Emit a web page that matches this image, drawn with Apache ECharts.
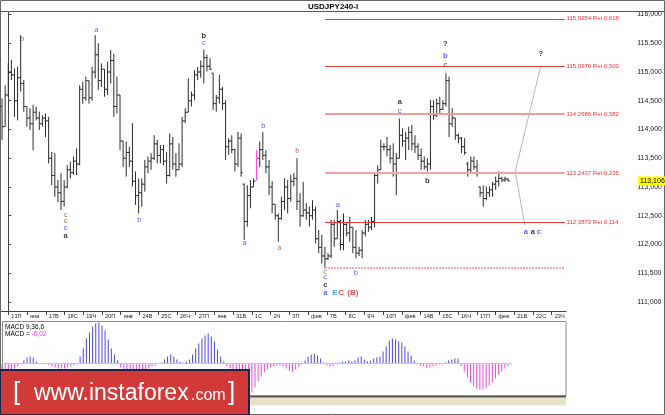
<!DOCTYPE html>
<html><head><meta charset="utf-8">
<script src="https://cdn.jsdelivr.net/npm/echarts@6/dist/echarts.min.js"></script>
<style>html,body{margin:0;padding:0;background:#fff}#c{width:665px;height:415px}</style>
</head><body><div id="c"></div>
<script>
// ---------------- DATA ----------------
const chartTitle = 'USDJPY240-I';
const firstBar = -2; // index of first bar relative to the first labelled day start
// [open, high, low, close]
const ohlcBars = [
 [114.40,114.54,113.82,114.05],
 [114.05,114.77,114.05,114.60],
 [114.60,115.15,114.57,115.00], //0
 [115.00,115.21,114.86,114.95],
 [114.95,115.06,114.22,114.50],
 [114.50,115.09,114.16,114.90],
 [114.90,115.64,114.66,114.80],
 [114.80,114.86,114.31,114.40], //5
 [114.40,114.40,114.05,114.20],
 [114.20,114.37,113.99,114.10],
 [114.10,114.43,113.64,114.30],
 [114.30,114.40,114.16,114.20],
 [114.20,114.31,113.99,114.10], //10
 [114.10,114.25,114.05,114.20],
 [114.20,114.28,113.87,114.15],
 [114.15,114.22,113.41,113.50],
 [113.50,113.61,113.03,113.20],
 [113.20,113.59,112.83,113.00], //15
 [113.00,113.12,112.74,112.90],
 [112.90,113.24,112.60,112.75],
 [112.75,113.12,112.66,113.00],
 [113.00,113.38,112.98,113.30],
 [113.30,113.44,113.15,113.25], //20
 [113.25,113.53,113.21,113.45],
 [113.45,113.67,113.21,113.40],
 [113.40,114.77,113.38,114.70],
 [114.70,114.83,114.45,114.55],
 [114.55,114.92,114.50,114.85], //25
 [114.85,114.85,114.45,114.55],
 [114.55,115.09,114.50,115.00],
 [115.00,115.64,114.89,115.30],
 [115.30,115.50,114.69,114.85],
 [114.85,115.15,114.74,115.05], //30
 [115.05,115.05,114.57,114.70],
 [114.70,115.18,114.60,115.00],
 [115.00,115.38,114.80,115.20],
 [115.20,115.32,114.22,114.40],
 [114.40,114.92,114.28,114.60], //35
 [114.60,114.60,113.64,113.80],
 [113.80,113.80,113.35,113.50],
 [113.50,113.79,113.18,113.60],
 [113.60,113.70,113.35,113.45],
 [113.45,114.11,113.01,113.10], //40
 [113.10,113.27,112.69,112.85],
 [112.85,113.15,112.54,112.90],
 [112.90,113.15,112.66,113.05],
 [113.05,113.47,112.92,113.35],
 [113.35,113.53,113.24,113.45], //45
 [113.45,113.59,113.30,113.50],
 [113.50,113.90,113.47,113.75],
 [113.75,113.82,113.41,113.55],
 [113.55,113.73,113.41,113.65],
 [113.65,113.73,113.38,113.45], //50
 [113.45,113.61,113.06,113.20],
 [113.20,113.93,113.18,113.75],
 [113.75,113.87,113.30,113.40],
 [113.40,113.59,113.18,113.30],
 [113.30,113.76,113.30,113.40], //55
 [113.40,114.22,113.35,114.15],
 [114.15,114.37,114.11,114.30],
 [114.30,114.89,114.30,114.50],
 [114.50,114.66,114.40,114.60],
 [114.60,115.03,114.51,114.95], //60
 [114.95,115.09,114.86,115.00],
 [115.00,115.20,114.90,115.10],
 [115.10,115.39,114.80,115.25],
 [115.25,115.30,115.01,115.10],
 [115.10,115.24,115.03,115.05], //65
 [114.98,114.98,114.34,114.45],
 [114.45,114.60,114.31,114.55],
 [114.55,114.95,114.45,114.70],
 [114.70,114.74,114.34,114.45],
 [114.45,114.51,113.47,113.70], //70
 [113.70,113.85,113.56,113.80],
 [113.80,113.90,113.59,113.65],
 [113.65,113.67,113.27,113.40],
 [113.40,113.96,113.35,113.85],
 [113.85,113.93,113.18,113.25], //75
 [113.05,113.06,112.08,112.40],
 [112.40,113.03,112.31,112.85],
 [112.85,113.12,112.63,113.00],
 [113.00,113.15,113.00,113.10],
 [113.12,113.64,113.12,113.50], //80
 [113.50,113.79,113.35,113.65],
 [113.65,113.96,113.47,113.55],
 [113.55,113.64,113.24,113.35],
 [113.35,113.47,112.86,113.00],
 [113.00,113.10,112.54,112.70], //85
 [112.70,112.70,112.43,112.50],
 [112.50,112.54,112.05,112.45],
 [112.45,112.83,112.43,112.75],
 [112.75,113.15,112.60,113.00],
 [113.00,113.12,112.54,112.80], //90
 [112.80,113.21,112.74,113.10],
 [113.10,113.24,113.01,113.15],
 [113.15,113.50,112.60,112.75],
 [112.75,112.89,112.31,112.50],
 [112.50,113.09,112.48,112.60], //95
 [112.60,112.72,112.43,112.55],
 [112.55,112.66,112.31,112.50],
 [112.50,112.77,112.43,112.60],
 [112.60,112.66,112.02,112.10],
 [112.10,112.25,111.85,111.95], //100
 [111.95,112.17,111.67,111.80],
 [111.80,111.96,111.59,111.75],
 [111.75,111.85,111.73,111.80],
 [111.80,112.43,111.76,112.35],
 [112.35,112.43,111.96,112.10], //105
 [112.10,112.60,112.10,112.40],
 [112.40,112.43,111.90,112.00],
 [112.00,112.54,111.90,112.35],
 [112.35,112.37,112.14,112.20],
 [112.20,112.48,112.05,112.30], //110
 [112.30,112.30,111.85,111.95],
 [111.95,112.25,111.76,111.85],
 [111.85,111.96,111.80,111.90],
 [111.90,112.25,111.76,112.20],
 [112.20,112.43,112.14,112.35], //115
 [112.35,112.43,112.22,112.30],
 [112.30,112.48,112.25,112.40],
 [112.40,113.24,112.30,113.20],
 [113.20,113.38,113.06,113.30],
 [113.30,113.82,113.30,113.70], //120
 [113.70,113.76,113.64,113.70],
 [113.70,113.87,113.53,113.65],
 [113.65,113.73,113.41,113.50],
 [113.50,113.76,113.18,113.40],
 [113.40,113.59,112.86,113.50], //125
 [113.50,114.19,113.50,113.90],
 [113.90,114.02,113.70,113.80],
 [113.80,113.96,113.47,113.85],
 [113.85,114.05,113.64,113.95],
 [113.95,114.08,113.64,113.75], //130
 [113.75,113.90,113.59,113.70],
 [113.70,113.76,113.47,113.55],
 [113.55,113.67,113.30,113.45],
 [113.45,113.53,113.30,113.35],
 [113.35,113.50,113.27,113.40], //135
 [113.40,114.51,113.30,114.40],
 [114.40,114.51,114.17,114.25],
 [114.25,114.54,114.22,114.45],
 [114.45,114.57,114.25,114.35],
 [114.35,114.51,114.34,114.45], //140
 [114.45,114.98,114.40,114.85],
 [114.85,114.92,113.87,114.10],
 [114.10,114.37,114.05,114.20],
 [114.20,114.20,113.82,113.90],
 [113.90,113.93,113.76,113.85], //145
 [113.85,113.87,113.59,113.70],
 [113.70,113.85,113.56,113.60],
 [113.40,113.44,113.18,113.30],
 [113.30,113.53,113.24,113.45],
 [113.45,113.53,113.30,113.35], //150
 [113.35,113.47,113.18,113.25],
 [113.00,113.01,112.83,112.90],
 [112.90,113.03,112.66,112.80],
 [112.80,113.01,112.77,112.90],
 [112.90,113.01,112.83,112.95], //155
 [112.95,113.09,112.83,113.05],
 [113.05,113.18,112.95,113.10],
 [113.10,113.27,113.01,113.15],
 [113.15,113.18,113.09,113.12],
 [113.12,113.18,113.09,113.14], //160
 [113.14,113.15,113.10,113.106]
];
const highlightBars = [80]; // bar drawn in magenta

// MACD(9,36,6) histogram, one value per bar
const macdHist = [
 -0.08,-0.08,
 -0.07,-0.06,-0.05,-0.03,-0.01, 0.03, 0.06, 0.07, 0.06, 0.02, //0-9
 -0.005,-0.01,-0.01,-0.02,-0.03,-0.04,-0.05,-0.05,-0.05,-0.04, //10-19
 -0.03,-0.02,-0.01, 0.07, 0.15, 0.25, 0.31, 0.37, 0.40, 0.41, //20-29
  0.38, 0.33, 0.24, 0.15, 0.09, 0.03,-0.04,-0.06,-0.08,-0.09, //30-39
 -0.09,-0.08,-0.08,-0.07,-0.06,-0.05,-0.03,-0.02,-0.005,0.01, //40-49
  0.04, 0.07, 0.09, 0.07, 0.04, 0.02, 0.01, 0.02, 0.04, 0.09, //50-59
  0.15, 0.20, 0.25, 0.28, 0.30, 0.27, 0.22, 0.14, 0.07, 0.02, //60-69
 -0.03,-0.05,-0.08,-0.12,-0.17,-0.21,-0.25,-0.28,-0.29,-0.24, //70-79
 -0.18,-0.13,-0.09,-0.06,-0.04,-0.03,-0.02,-0.02,-0.03,-0.05, //80-89
 -0.07,-0.08,-0.06,-0.03,-0.01, 0.03, 0.07, 0.09, 0.10, 0.08, //90-99
  0.05, 0.01,-0.02,-0.03,-0.03,-0.01, 0.01, 0.02, 0.02, 0.03, //100-109
  0.02, 0.03, 0.06, 0.07, 0.04, 0.02, 0.03, 0.05, 0.06, 0.07, //110-119
  0.12, 0.17, 0.23, 0.25, 0.24, 0.22, 0.21, 0.17, 0.12, 0.08, //120-129
  0.03,-0.01,-0.02,-0.03,-0.04,-0.04,-0.03,-0.02,-0.01,-0.01, //130-139
  0.01, 0.03, 0.04, 0.05, 0.05,-0.03,-0.08,-0.14,-0.19,-0.23, //140-149
 -0.25,-0.26,-0.26,-0.25,-0.22,-0.19,-0.15,-0.11,-0.08,-0.05, //150-159
 -0.03,-0.01                                                    //160-161
];
const macdTitle = 'MACD 9,36,6';
const macdValueText = '-0,02';

const dayLabels = ['13П','янв','17В','18С','19Ч','20П','янв','24В','25С','26Ч','27П','янв','31В','1С','2Ч','3П',
                   'фев','7В','8С','9Ч','10П','фев','14В','15С','16Ч','17П','фев','21В','22С','23Ч'];
const barsPerDay = 6;
const priceTicks = [111, 111.5, 112, 112.5, 113, 113.5, 114, 114.5, 115, 115.5, 116];

const fibLevels = [115.9254, 115.0970, 114.2686, 113.2437, 112.3873, 111.60];
const fibRatios = ['0,618', '0,500', '0,382', '0,236', '0,114', ''];
const fibSpan = [102.05, 179.2];   // bar-index range of the retracement lines
const lastPrice = 113.106;

const projUp = [[163.3, 113.266], [171.5, 115.097]];
const projDown = [[163.3, 113.266], [166.4, 112.339]];

// [barIndex, price, text, colour, bold]
const waveLabels = [
 [4.4, 115.57, 'b', 'k2', 0],
 [28.4, 115.73, 'a', 'blue', 0],
 [63.0, 115.63, 'b', 'k', 1],
 [63.0, 115.50, 'c', 'blue', 0],
 [18.5, 112.51, 'c', 'gray', 0],
 [18.5, 112.41, 'c', 'brown', 0],
 [18.5, 112.29, 'c', 'blue', 0],
 [18.5, 112.15, 'a', 'k', 1],
 [42.2, 112.43, 'b', 'blue', 0],
 [82.2, 114.06, 'b', 'blue', 0],
 [76.1, 112.03, 'a', 'blue', 0],
 [93.1, 113.63, 'b', 'brown', 0],
 [87.3, 111.94, 'a', 'brown', 0],
 [106.2, 112.69, 'a', 'blue', 0],
 [102.1, 111.52, 'c', 'brown', 0],
 [102.1, 111.44, 'c', 'blue', 0],
 [102.1, 111.30, 'c', 'k', 1],
 [102.1, 111.16, 'a', 'blue', 1],
 [105.2, 111.16, 'E', 'cyan', 1],
 [107.2, 111.16, 'C', 'red', 1],
 [111.0, 111.16, '(B)', 'red', 1],
 [112.0, 111.50, 'b', 'blue', 0],
 [126.1, 114.48, 'a', 'k', 1],
 [126.1, 114.32, 'c', 'blue', 0],
 [140.8, 115.49, '?', 'k', 1],
 [140.8, 115.28, 'b', 'blue', 1],
 [140.8, 115.12, 'c', 'k', 0],
 [135.0, 113.10, 'b', 'k', 1],
 [171.5, 115.31, '?', 'k', 1],
 [166.7, 112.22, 'a', 'blue', 1],
 [169.0, 112.22, 'a', 'k', 1],
 [170.9, 112.22, 'c', 'blue', 1]
];

// ---------------- STYLE / LAYOUT ----------------
const FONT = 'Liberation Sans';
const colors = {k:'#000', k2:'#333', blue:'#3434ff', brown:'#a0522d', gray:'#666', cyan:'#1f9be0', red:'#e61e1e'};
const fibStyles = [
 {color:'#ee3434', width:1.2, type:'solid'},
 {color:'#e83838', width:1.2, type:'solid'},
 {color:'#f39a9a', width:2.2, type:'solid'},
 {color:'#f4a4a4', width:2.2, type:'solid'},
 {color:'#e63838', width:1.2, type:'solid'},
 {color:'#f5a8a8', width:2.2, type:[2,1]}
];
const X_DAY0 = 8.3;   // px of first labelled day tick
const PX_BAR = 3.123; // px per bar
const ix = px => (px - X_DAY0) / PX_BAR;
const PY116 = 14.5, PX_PER_UNIT = 57.5;
const pv = px => 116 - (px - PY116) / PX_PER_UNIT;
const fmt = (v, d) => v.toFixed(d).replace('.', ',');

const chart = echarts.init(document.getElementById('c'), null, {renderer:'canvas'});

const barData = ohlcBars.map((b, k) => [firstBar + k, b[0], b[1], b[2], b[3]]);
const macdData = macdHist.map((v, k) => [firstBar + k, v]);
const dayTicks = dayLabels.map((_, k) => k * barsPerDay);

const option = {
  animation: false,
  backgroundColor: '#ffffff',
  grid: [
    {left: 2, top: 12, width: 636, height: 299},
    {left: 0, top: 310, width: 566, height: 1},
    {left: 2, top: 322, width: 564, height: 74}
  ],
  xAxis: [
    {type:'value', gridIndex:0, min: ix(2), max: ix(638), show:false},
    {type:'value', gridIndex:1, min: ix(0), max: ix(566),
     axisLine:{show:true, lineStyle:{color:'#444', width:1}},
     axisTick:{show:true, customValues: dayTicks, length:4, lineStyle:{color:'#444'}},
     axisLabel:{show:true, customValues: dayTicks, formatter: v => dayLabels[Math.round(v / barsPerDay)] || '',
       align:'left', padding:[0,0,0,3], margin:2, fontSize:5.6, color:'#222', fontFamily: FONT},
     splitLine:{show:false}},
    {type:'value', gridIndex:2, min: ix(2), max: ix(566), show:false}
  ],
  yAxis: [
    {type:'value', gridIndex:0, position:'right', min: pv(311), max: pv(12),
     axisLine:{show:true, lineStyle:{color:'#444', width:1}},
     axisTick:{show:true, customValues: priceTicks, length:3, lineStyle:{color:'#444'}},
     axisLabel:{show:true, customValues: priceTicks, formatter: v => fmt(v, 3), margin:3,
       fontSize:7, color:'#222', fontFamily: FONT},
     splitLine:{show:false}},
    {type:'value', gridIndex:1, show:false, min:0, max:1},
    {type:'value', gridIndex:2, show:false, min:-0.325, max:0.415}
  ],
  series: [
    {
      type:'custom', xAxisIndex:0, yAxisIndex:0, data: barData,
      encode:{x:0, y:[1,2,3,4]}, silent:true,
      renderItem: (params, api) => {
        const i = api.value(0);
        const o = api.coord([i, api.value(1)]);
        const h = api.coord([i, api.value(2)]);
        const l = api.coord([i, api.value(3)]);
        const c = api.coord([i, api.value(4)]);
        const x = h[0], w = 1.7;
        const col = highlightBars.includes(i) ? '#ff33ff' : '#2a2a2a';
        const st = {stroke: col, lineWidth: 1};
        return {type:'group', children:[
          {type:'line', shape:{x1:x, y1:h[1], x2:x, y2:l[1]}, style: st},
          {type:'line', shape:{x1:x - w, y1:o[1], x2:x, y2:o[1]}, style: st},
          {type:'line', shape:{x1:x, y1:c[1], x2:x + w, y2:c[1]}, style: st}
        ]};
      }
    },
    {
      type:'line', xAxisIndex:0, yAxisIndex:0, data: projUp, symbol:'none', silent:true,
      lineStyle:{color:'#b8b8b8', width:1},
      markLine: {
        silent:true, symbol:['none','none'], animation:false,
        data: fibLevels.map((lv, k) => [
          {coord:[fibSpan[0], lv], lineStyle: fibStyles[k],
           label:{show: fibRatios[k] !== '', formatter: fmt(lv, 4) + ' Ret ' + fibRatios[k],
                  position:'end', distance:2, color:'#ff2a2a', fontSize:6, fontFamily: FONT}},
          {coord:[fibSpan[1], lv]}
        ])
      }
    },
    {type:'line', xAxisIndex:0, yAxisIndex:0, data: projDown, symbol:'none', silent:true,
     lineStyle:{color:'#b8b8b8', width:1}},
    {
      type:'scatter', xAxisIndex:0, yAxisIndex:0, symbolSize:0, silent:true,
      data: waveLabels.map(w => ({
        value:[w[0], w[1]], name: w[2],
        label:{color: colors[w[3]], fontWeight: w[4] ? 'bold' : 'normal',
               fontSize: w[2] === '(B)' || w[2] === 'C' || w[2] === 'E' ? 8 : 7.5}
      })),
      label:{show:true, position:'inside', formatter: p => p.name, fontFamily: FONT}
    },
    {
      type:'custom', xAxisIndex:2, yAxisIndex:2, data: macdData, encode:{x:0, y:1}, silent:true,
      renderItem: (params, api) => {
        const i = api.value(0), v = api.value(1);
        const p0 = api.coord([i, 0]);
        const p1 = api.coord([i, v]);
        return {type:'line', shape:{x1:p0[0], y1:p0[1], x2:p1[0], y2:p1[1]},
                style:{stroke: v >= 0 ? '#4646ee' : '#f044f0', lineWidth:1}};
      },
      markLine:{silent:true, symbol:['none','none'], animation:false, label:{show:false},
        lineStyle:{color:'#c8c8c8', width:1, type:'solid'},
        data:[[{coord:[firstBar, 0]}, {coord:[firstBar + macdHist.length - 1, 0]}]]}
    }
  ],
  graphic: [
    {type:'rect', shape:{x:0.5, y:0.5, width:664, height:414}, style:{fill:'none', stroke:'#666', lineWidth:1}, z:10},
    {type:'line', shape:{x1:0, y1:11.5, x2:665, y2:11.5}, style:{stroke:'#555', lineWidth:1}, z:10},
    {type:'text', x:333, y:6.5, style:{text: chartTitle, font:'bold 8px "Liberation Sans"', fill:'#000', align:'center', verticalAlign:'middle'}, z:10},
    {type:'rect', shape:{x:2.5, y:321.5, width:563.5, height:74.5}, style:{fill:'none', stroke:'#8a8a8a', lineWidth:1}, z:5},
    {type:'line', shape:{x1:0, y1:396.5, x2:566, y2:396.5}, style:{stroke:'#555', lineWidth:2}, z:6},
    {type:'rect', shape:{x:249, y:397.5, width:317, height:8}, style:{fill:'#e8e2cc'}, z:5},
    {type:'text', x:5, y:327, style:{text: macdTitle, font:'6.5px "Liberation Sans"', fill:'#000', verticalAlign:'middle'}, z:10},
    {type:'text', x:5, y:334.5, style:{text:'{a|MACD = }{b|' + macdValueText + '}', verticalAlign:'middle',
      rich:{a:{fontSize:6.5, fontFamily: FONT, fill:'#000', color:'#000'}, b:{fontSize:6.5, fontFamily: FONT, fill:'#ff33ff', color:'#ff33ff'}}}, z:10},
    {type:'group', z:20, children:[
      {type:'rect', shape:{x:0, y:370, width:249, height:45}, style:{fill:'#d23a3a', stroke:'#1e2446', lineWidth:2}, z:20},
      {type:'text', x:13, y:392.5, style:{text:'[', font:'26px "Liberation Sans"', fill:'#fff', verticalAlign:'middle'}, z:21},
      {type:'text', x:34, y:394, style:{text:'www.instaforex', font:'23px "Liberation Sans"', fill:'#fff', verticalAlign:'middle'}, z:21},
      {type:'text', x:191, y:396, style:{text:'.com', font:'16px "Liberation Sans"', fill:'#fff', verticalAlign:'middle'}, z:21},
      {type:'text', x:228, y:392.5, style:{text:']', font:'26px "Liberation Sans"', fill:'#fff', verticalAlign:'middle'}, z:21}
    ]}
  ]
};
chart.setOption(option);

// current price tag on the price scale
const yTag = chart.convertToPixel({yAxisIndex:0}, lastPrice);
chart.setOption({graphic:[
  {id:'tagRect', type:'rect', shape:{x:638, y:yTag - 4.5, width:27, height:9}, style:{fill:'#ffff00'}, z:30},
  {id:'tagText', type:'text', x:640, y:yTag, style:{text: fmt(lastPrice, 3), font:'7px "Liberation Sans"', fill:'#000', verticalAlign:'middle'}, z:31}
]});
</script>
</body></html>
